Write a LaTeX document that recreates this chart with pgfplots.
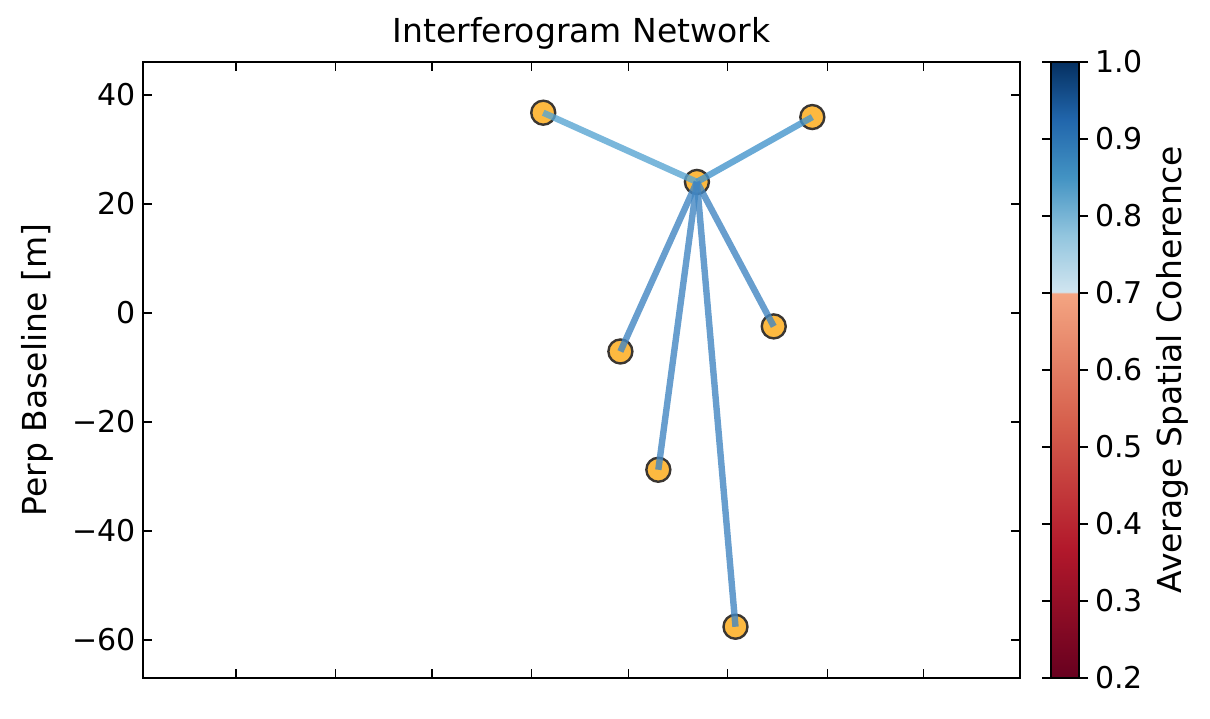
\documentclass[border=0pt]{standalone}
\usepackage{fontspec}
\setmainfont{DejaVu Sans}
\usepackage{pgfplots}
\pgfplotsset{compat=1.18}

\definecolor{ptfill}{RGB}{253,185,64}
\definecolor{ptedge}{RGB}{58,54,50}
\definecolor{lnA}{RGB}{89,165,210}
\definecolor{lnB}{RGB}{69,149,204}
\definecolor{lnC}{RGB}{66,134,194}

\newcommand{\tickfont}{\fontsize{15}{18}\selectfont}
\newcommand{\labfont}{\fontsize{16.5}{20}\selectfont}

\begin{document}
\begin{tikzpicture}
\begin{axis}[
  name=ax,
  scale only axis, width=438.5pt, height=308pt,
  xmin=-28.9, xmax=243.9, ymin=-67, ymax=46,
  clip marker paths=true,
  xtick={0,31,61,92,122,153,184,214}, xticklabels={},
  ytick={-60,-40,-20,0,20,40},
  yticklabels={−60,−40,−20,0,20,40},
  tick align=inside, major tick length=4.5pt,
  x tick style={line width=0.6pt,black},
  y tick style={line width=1pt,black},
  axis line style={line width=1.2pt},
  ticklabel style={font=\tickfont},
  label style={font=\labfont},
  title style={font=\labfont, yshift=-3pt},
  title={Interferogram Network},
  ylabel={Perp Baseline [m]},
  ylabel shift=3pt,
  colormap={coh}{rgb255(200pt)=(103,0,31) rgb255(283pt)=(140,12,37) rgb255(367pt)=(178,24,43)
    rgb255(533pt)=(214,96,77) rgb255(700pt)=(244,165,130) rgb255(701pt)=(209,229,240)
    rgb255(775pt)=(146,197,222) rgb255(850pt)=(67,147,195) rgb255(925pt)=(33,102,172)
    rgb255(1000pt)=(5,48,97)},
  point meta min=0.2, point meta max=1,
  colorbar,
  colorbar style={
    scale only axis, width=14pt, height=308pt,
    at={(parent axis.north east)}, anchor=north west, xshift=7pt,
    ytick={0.2,0.3,0.4,0.5,0.6,0.7,0.8,0.9,1.0},
    yticklabels={0.2,0.3,0.4,0.5,0.6,0.7,0.8,0.9,1.0},
    yticklabel pos=right, ytick align=outside, major tick length=4.5pt,
    y tick style={line width=0.8pt,black},
    axis line style={line width=1.2pt},
    yticklabel style={font=\tickfont},
    ylabel={Average Spatial Coherence},
    ylabel style={font=\labfont},
  },
]
% acquisitions
\addplot[only marks, mark=*, mark size=6pt,
  mark options={fill=ptfill, draw=ptedge, line width=1.2pt}] coordinates {
  (95.6,36.7) (179.3,35.9) (143.4,24.0) (119.6,-7.1)
  (167.3,-2.5) (131.4,-28.8) (155.4,-57.6)
};
% interferograms
\addplot[draw=lnA, opacity=0.8, line width=3.2pt, line cap=butt] coordinates {(143.4,24.0) (95.6,36.7)};
\addplot[draw=lnB, opacity=0.8, line width=3.2pt, line cap=butt] coordinates {(143.4,24.0) (179.3,35.9)};
\addplot[draw=lnC, opacity=0.8, line width=3.2pt, line cap=butt] coordinates {(143.4,24.0) (119.6,-7.1)};
\addplot[draw=lnC, opacity=0.8, line width=3.2pt, line cap=butt] coordinates {(143.4,24.0) (167.3,-2.5)};
\addplot[draw=lnC, opacity=0.8, line width=3.2pt, line cap=butt] coordinates {(143.4,24.0) (131.4,-28.8)};
\addplot[draw=lnC, opacity=0.8, line width=3.2pt, line cap=butt] coordinates {(143.4,24.0) (155.4,-57.6)};
\end{axis}
\path ([shift={(-71.5pt,-20pt)}]ax.south west) rectangle ([shift={(95pt,31pt)}]ax.north east);
\end{tikzpicture}
\end{document}
